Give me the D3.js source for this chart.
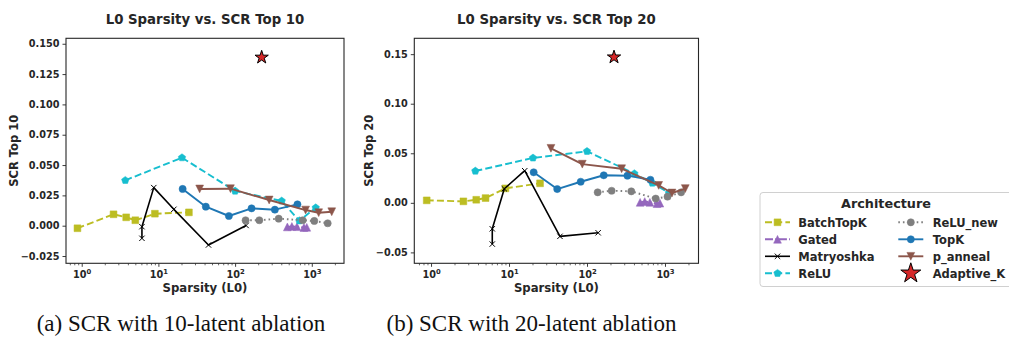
<!DOCTYPE html>
<html><head><meta charset="utf-8">
<script src="https://cdn.jsdelivr.net/npm/d3@7"></script>
<style>
body{margin:0;background:#fff}
svg text{font-family:"DejaVu Sans",sans-serif;font-weight:bold;fill:#262626}
svg text.cap{font-family:"Liberation Serif","Times New Roman",serif;font-weight:normal;fill:#111}
</style>
</head><body><svg id="c" width="1009" height="337"></svg>
<script>
// ---------- data ----------
const batchX = [0.88, 2.6, 3.8, 5.0, 9.0, 25];
const batchY10 = [-0.0021, 0.0094, 0.0069, 0.0045, 0.0099, 0.0110];
const batchY20 = [0.0025, 0.0015, 0.0031, 0.0048, 0.0146, 0.0197];

const gatedX = [480, 550, 640, 790, 860];
const gatedY10 = [-0.0010, -0.0006, -0.0008, -0.0015, -0.0013];
const gatedY20 = [0.0005, 0.0013, 0.0005, -0.0008, -0.0003];

const matX = [6.1, 6.1, 8.7, 15.9, 45, 139];
const matY10 = [-0.0104, -0.0008, 0.0314, 0.0135, -0.0159, 0.0002];
const matY20 = [-0.0416, -0.0262, 0.0142, 0.0324, -0.0338, -0.0302];

const reluX = [3.7, 20.3, 100, 405, 688, 1125];
const reluY10 = [0.0374, 0.0561, 0.0286, 0.0204, 0.0041, 0.0148];
const reluY20 = [0.0321, 0.0453, 0.0520, 0.0295, 0.0200, 0.0100];

const reluNewX = [137, 207, 370, 761, 1078, 1611];
const reluNewY10 = [0.0045, 0.0045, 0.0058, 0.0045, 0.0039, 0.0020];
const reluNewY20 = [0.0106, 0.0122, 0.0116, 0.0043, 0.0062, 0.0106];

const topkX = [20.7, 41.5, 83, 164, 330, 650];
const topkY10 = [0.0303, 0.0157, 0.0080, 0.0143, 0.0132, 0.0176];
const topkY20 = [0.0308, 0.0139, 0.0213, 0.0278, 0.0274, 0.0233];

const annealX = [34.5, 87, 278, 830, 1230, 1820];
const annealY10 = [0.0303, 0.0305, 0.0212, 0.0129, 0.0107, 0.0115];
const annealY20 = [0.0550, 0.0390, 0.0344, 0.0176, 0.0099, 0.0144];

const adaptX = [222];
const adaptY10 = [0.1388];
const adaptY20 = [0.147];

const seriesNames = ["BatchTopK","Gated","Matryoshka","ReLU","ReLU_new","TopK","p_anneal","Adaptive_K"];
const yTicks10 = [-0.025, 0, 0.025, 0.05, 0.075, 0.1, 0.125, 0.15];
const yTicks20 = [-0.05, 0, 0.05, 0.1, 0.15];
const xMajor = [1, 10, 100, 1000];
const titles = ["L0 Sparsity vs. SCR Top 10", "L0 Sparsity vs. SCR Top 20"];
const yLabels = ["SCR Top 10", "SCR Top 20"];
const xLabel = "Sparsity (L0)";
const captions = ["(a) SCR with 10-latent ablation", "(b) SCR with 20-latent ablation"];
const legendTitle = "Architecture";

// ---------- styles ----------
const styles = {
  "BatchTopK": {color:"#bcbd22", dash:"7,3.2", marker:"square"},
  "Gated": {color:"#9467bd", dash:"8,2.2,1.5,2.2", marker:"triUp"},
  "Matryoshka": {color:"#000000", dash:null, marker:"x"},
  "ReLU": {color:"#17becf", dash:"7,3.2", marker:"pent"},
  "ReLU_new": {color:"#7f7f7f", dash:"1.6,3", marker:"circle"},
  "TopK": {color:"#1f77b4", dash:null, marker:"circle"},
  "p_anneal": {color:"#8c564b", dash:null, marker:"triDown"},
  "Adaptive_K": {color:"#d62728", dash:null, marker:"star", noLine:true}
};
const dataX = {"BatchTopK":batchX,"Gated":gatedX,"Matryoshka":matX,"ReLU":reluX,"ReLU_new":reluNewX,"TopK":topkX,"p_anneal":annealX,"Adaptive_K":adaptX};
const dataY = [
  {"BatchTopK":batchY10,"Gated":gatedY10,"Matryoshka":matY10,"ReLU":reluY10,"ReLU_new":reluNewY10,"TopK":topkY10,"p_anneal":annealY10,"Adaptive_K":adaptY10},
  {"BatchTopK":batchY20,"Gated":gatedY20,"Matryoshka":matY20,"ReLU":reluY20,"ReLU_new":reluNewY20,"TopK":topkY20,"p_anneal":annealY20,"Adaptive_K":adaptY20}
];

function markerPath(type, s){
  switch(type){
    case "square": return `M${-s},${-s}h${2*s}v${2*s}h${-2*s}Z`;
    case "triUp": return `M0,${-s}L${s},${s}L${-s},${s}Z`;
    case "triDown": return `M0,${s}L${s},${-s}L${-s},${-s}Z`;
    case "circle": return `M${s},0A${s},${s} 0 1,1 ${-s},0A${s},${s} 0 1,1 ${s},0Z`;
    case "x": return `M${-s},${-s}L${s},${s}M${-s},${s}L${s},${-s}`;
    case "pent": {
      let p=[]; for(let k=0;k<5;k++){const a=(-90+72*k)*Math.PI/180; p.push([s*Math.cos(a), s*Math.sin(a)]);}
      return "M"+p.map(q=>q.join(",")).join("L")+"Z";
    }
    case "star": {
      let p=[]; for(let k=0;k<10;k++){const a=(-90+36*k)*Math.PI/180; const r=k%2?s*0.382:s; p.push([r*Math.cos(a), r*Math.sin(a)]);}
      return "M"+p.map(q=>q.join(",")).join("L")+"Z";
    }
  }
}
const mSize = {square:3.4, triUp:3.9, triDown:3.9, circle:3.6, x:2.7, pent:3.9, star:7};

function drawMarker(g, name, x, y, scale){
  const st = styles[name];
  const s = mSize[st.marker]*(scale||1);
  const p = g.append("path").attr("d", markerPath(st.marker, s)).attr("transform",`translate(${x},${y})`);
  if(st.marker==="x"){ p.attr("fill","none").attr("stroke",st.color).attr("stroke-width",1); }
  else if(st.marker==="star"){ p.attr("fill",st.color).attr("stroke","#000").attr("stroke-width",1); }
  else { p.attr("fill",st.color).attr("stroke",st.color).attr("stroke-width",0.5); }
}

const svg = d3.select("#c");
const panels = [
  {left:66, right:344, top:38.3, bottom:263.3, xDom:[0.624,2630], yDom:[-0.031,0.1545], yTicks:yTicks10, fmt:d3.format(".3f"), yLabX:17.5},
  {left:414.3, right:698.5, top:38.3, bottom:263.3, xDom:[0.61,2690], yDom:[-0.061,0.166], yTicks:yTicks20, fmt:d3.format(".2f"), yLabX:372.5}
];

panels.forEach((P, i) => {
  const x = d3.scaleLog().domain(P.xDom).range([P.left, P.right]);
  const y = d3.scaleLinear().domain(P.yDom).range([P.bottom, P.top]);
  const g = svg.append("g");

  // y axis
  const ya = g.append("g").attr("transform",`translate(${P.left},0)`)
    .call(d3.axisLeft(y).tickValues(P.yTicks).tickFormat(P.fmt).tickSize(3.5).tickPadding(3));
  ya.select(".domain").remove();
  ya.selectAll("line").attr("stroke","#262626").attr("stroke-width",0.9);
  ya.selectAll("text").attr("font-size","9.7px").style("font-family","DejaVu Sans").style("font-weight","bold").attr("fill","#262626");

  // x axis (log) major + minor
  const minor = [];
  for(let d=-1; d<=3; d++) for(let m=2;m<=9;m++){ const v=m*Math.pow(10,d); if(v>=P.xDom[0]&&v<=P.xDom[1]) minor.push(v); }
  const xm = g.append("g").attr("transform",`translate(0,${P.bottom})`)
    .call(d3.axisBottom(x).tickValues(minor).tickFormat("").tickSize(2));
  xm.select(".domain").remove();
  xm.selectAll("line").attr("stroke","#262626").attr("stroke-width",0.7);
  const xa = g.append("g").attr("transform",`translate(0,${P.bottom})`)
    .call(d3.axisBottom(x).tickValues(xMajor).tickFormat("").tickSize(3.5));
  xa.select(".domain").remove();
  xa.selectAll("line").attr("stroke","#262626").attr("stroke-width",0.9);
  xa.selectAll(".tick").each(function(v){
    const t = d3.select(this).append("text").attr("y",14.3).attr("x",0).attr("text-anchor","middle").attr("font-size","9.7px").attr("fill","#262626");
    t.append("tspan").text("10");
    t.append("tspan").attr("dy",-4).attr("font-size","6.8px").text(String(Math.round(Math.log10(v))));
  });

  // frame
  g.append("rect").attr("x",P.left).attr("y",P.top).attr("width",P.right-P.left).attr("height",P.bottom-P.top)
    .attr("fill","none").attr("stroke","#262626").attr("stroke-width",1.1);

  // title & labels
  g.append("text").attr("x",(P.left+P.right)/2).attr("y",23.5).attr("text-anchor","middle").attr("font-size","13.3px").text(titles[i]);
  g.append("text").attr("x",(P.left+P.right)/2).attr("y",292).attr("text-anchor","middle").attr("font-size","11.7px").text(xLabel);
  g.append("text").attr("transform",`translate(${P.yLabX},${(P.top+P.bottom)/2}) rotate(-90)`).attr("text-anchor","middle").attr("font-size","11.5px").text(yLabels[i]);

  // series
  const line = d3.line().x(d=>x(d[0])).y(d=>y(d[1]));
  seriesNames.forEach(name => {
    const st = styles[name];
    const pts = dataX[name].map((v,k)=>[v, dataY[i][name][k]]);
    const sg = g.append("g");
    if(!st.noLine){
      sg.append("path").attr("d", line(pts)).attr("fill","none").attr("stroke",st.color)
        .attr("stroke-width", name==="Matryoshka"?1.6:1.9).attr("stroke-dasharray", st.dash||null).attr("stroke-linejoin","round");
    }
    pts.forEach(p => drawMarker(sg, name, x(p[0]), y(p[1])));
  });

  // caption
  svg.append("text").attr("class","cap").attr("x", i===0?181:531.5).attr("y",330.5).attr("text-anchor","middle").attr("font-size","23px").text(captions[i]);
});

// ---------- legend ----------
const L = svg.append("g");
L.append("rect").attr("x",760).attr("y",192.5).attr("width",252).attr("height",94).attr("rx",3)
  .attr("fill","#fff").attr("stroke","#d0d0d0").attr("stroke-width",1);
L.append("text").attr("x",886).attr("y",207.7).attr("text-anchor","middle").attr("font-size","12.8px").text(legendTitle);
const rowsY = [222.3, 239.3, 256.3, 273.3];
seriesNames.forEach((name, k) => {
  const col = Math.floor(k/4), row = k%4;
  const hx = col===0 ? 765 : 898.3;
  const tx = col===0 ? 798.3 : 932.7;
  const cy = rowsY[row];
  const st = styles[name];
  if(!st.noLine){
    L.append("line").attr("x1",hx).attr("x2",hx+25).attr("y1",cy).attr("y2",cy).attr("stroke",st.color)
      .attr("stroke-width", name==="Matryoshka"?1.6:1.9).attr("stroke-dasharray", st.dash||null);
  }
  drawMarker(L, name, hx+12.5, cy, name==="Adaptive_K"?1.5:1);
  L.append("text").attr("x",tx).attr("y",cy+4.2).attr("font-size","11.5px").text(name);
});
</script></body></html>
